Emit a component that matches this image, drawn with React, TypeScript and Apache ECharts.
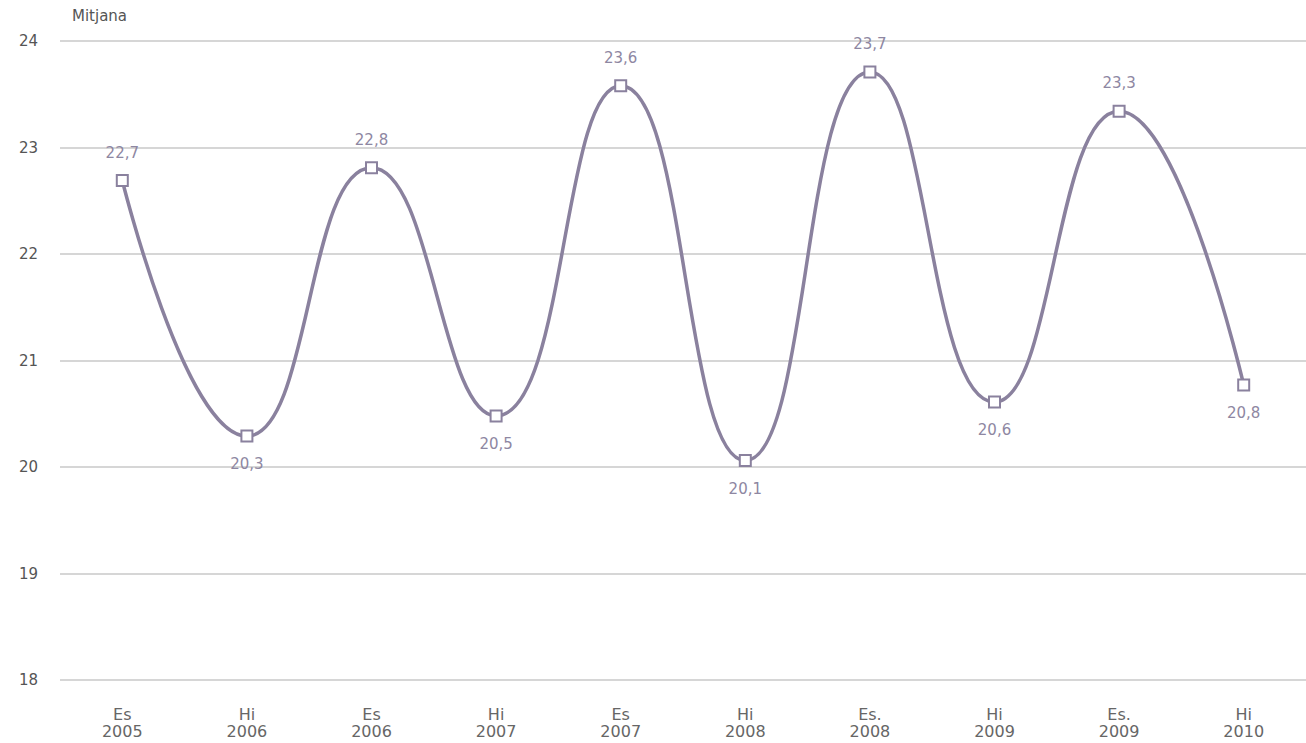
import React, { useEffect, useRef } from "react";
import * as echarts from "echarts";

const seasons = ["Es", "Hi", "Es", "Hi", "Es", "Hi", "Es.", "Hi", "Es.", "Hi"];
const years = ["2005", "2006", "2006", "2007", "2007", "2008", "2008", "2009", "2009", "2010"];
const values = [22.69, 20.29, 22.81, 20.48, 23.58, 20.06, 23.71, 20.61, 23.34, 20.77];
const labelPositions = ["top", "bottom", "top", "bottom", "top", "bottom", "top", "bottom", "top", "bottom"];
const yTicks = { min: 18, max: 24, interval: 1 };
const axisName = "Mitjana";

const FONT = "DejaVu Sans";
const LINE = "#8a819e";

export default function App() {
  const ref = useRef<HTMLDivElement>(null);
  useEffect(() => {
    if (!ref.current) return;
    const chart = echarts.init(ref.current, undefined, { renderer: "svg" });
    const categories = seasons.map((s, i) => s + "\n" + years[i]);
    chart.setOption({
      animation: false,
      grid: { left: 60, right: 0, top: 41, bottom: 63 },
      graphic: [
        {
          type: "text",
          left: 72,
          top: 8,
          style: { text: axisName, fill: "#555", font: `15px "${FONT}"` },
        },
      ],
      xAxis: {
        type: "category",
        data: categories,
        boundaryGap: true,
        axisLine: { show: false },
        axisTick: { show: false },
        axisLabel: {
          color: "#666",
          fontFamily: FONT,
          fontSize: 16,
          lineHeight: 17,
          margin: 26,
          interval: 0,
        },
      },
      yAxis: {
        type: "value",
        min: yTicks.min,
        max: yTicks.max,
        interval: yTicks.interval,
        axisLine: { show: false },
        axisTick: { show: false },
        axisLabel: { color: "#555", fontFamily: FONT, fontSize: 15, margin: 22 },
        splitLine: { lineStyle: { color: "#d6d6d6", width: 2 } },
      },
      series: [
        {
          type: "line",
          smooth: 0.5,
          data: values.map((v, i) => ({
            value: v,
            label: { position: labelPositions[i] },
          })),
          symbol: "rect",
          symbolSize: 11,
          itemStyle: { color: "#ffffff", borderColor: LINE, borderWidth: 2 },
          lineStyle: { color: LINE, width: 3.5 },
          label: {
            show: true,
            distance: 14,
            color: "#8e87a2",
            fontFamily: FONT,
            fontSize: 15,
            formatter: (p: any) => p.value.toFixed(1).replace(".", ","),
          },
          z: 3,
        },
      ],
    });
    return () => chart.dispose();
  }, []);
  return (
    <div
      ref={ref}
      style={{ position: "absolute", left: 0, top: 0, width: 1306, height: 743 }}
    />
  );
}
